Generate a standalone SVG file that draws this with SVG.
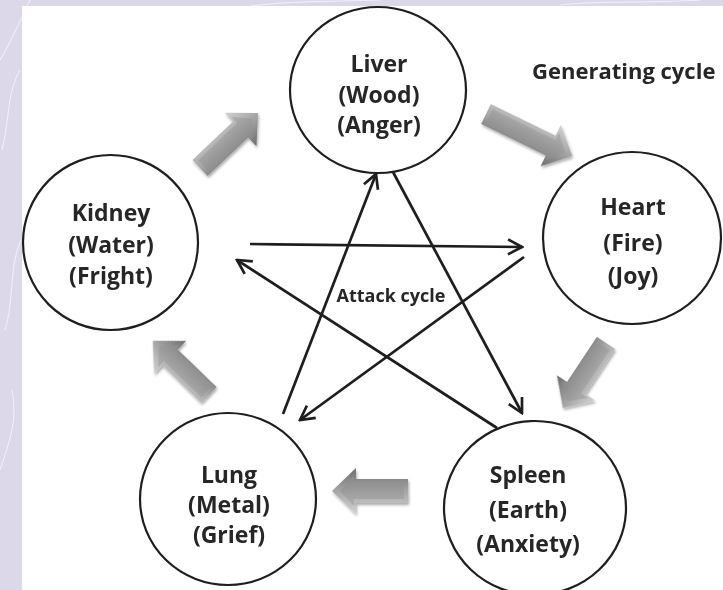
<svg xmlns="http://www.w3.org/2000/svg" width="723" height="590" viewBox="0 0 723 590">
  <defs>
    <style>
      .node { fill: #ffffff; stroke: #1e1e1e; stroke-width: 2.2; }
      .lbl { font-family: "Open Sans", "Noto Sans", "Liberation Sans", sans-serif; font-weight: 700; font-size: 23px; fill: #262626; text-anchor: middle; }
      .title { font-family: "Open Sans", "Noto Sans", "Liberation Sans", sans-serif; font-weight: 700; font-size: 22px; fill: #262626; }
      .att { font-family: "Open Sans", "Noto Sans", "Liberation Sans", sans-serif; font-weight: 700; font-size: 18px; fill: #262626; text-anchor: middle; }
      .atk { fill: none; stroke: #1e1e1e; stroke-width: 2.7; marker-end: url(#ah); }
      .g-out { fill: url(#gbev); }
      .g-in { fill: url(#gface); }
      .wisp { fill: none; stroke: #ffffff; stroke-opacity: 0.55; stroke-width: 1.2; }
    </style>
    <marker id="ah" markerUnits="userSpaceOnUse" viewBox="-17 -10 19 20" refX="0" refY="0" markerWidth="19" markerHeight="20" orient="auto">
      <path d="M-14,-7.5 L0,0 L-14,7.5" fill="none" stroke="#1e1e1e" stroke-width="2.7"/>
    </marker>
    <linearGradient id="gbev" gradientUnits="userSpaceOnUse" x1="0" y1="-23" x2="0" y2="23">
      <stop offset="0" stop-color="#d2d2d2"/>
      <stop offset="0.5" stop-color="#a6a6a6"/>
      <stop offset="1" stop-color="#6c6c6c"/>
    </linearGradient>
    <linearGradient id="gface" gradientUnits="userSpaceOnUse" x1="0" y1="-10" x2="0" y2="10">
      <stop offset="0" stop-color="#a9a9a9"/>
      <stop offset="1" stop-color="#8e8e8e"/>
    </linearGradient>
    <filter id="sh" x="-20%" y="-30%" width="140%" height="160%">
      <feGaussianBlur in="SourceAlpha" stdDeviation="1.8"/>
      <feOffset dx="1" dy="2" result="b"/>
      <feComponentTransfer><feFuncA type="linear" slope="0.35"/></feComponentTransfer>
      <feMerge><feMergeNode/><feMergeNode in="SourceGraphic"/></feMerge>
    </filter>
  </defs>

  <!-- background -->
  <rect x="0" y="0" width="723" height="590" fill="#dcd7e9"/>
  <path class="wisp" d="M0,60 C12,40 18,25 30,0"/>
  <path class="wisp" d="M2,150 C10,120 6,95 20,70"/>
  <path class="wisp" d="M5,330 C15,300 8,270 21,240"/>
  <path class="wisp" d="M0,470 C10,440 18,420 12,390"/>
  <path class="wisp" d="M250,6 C300,0 330,2 380,0"/>
  <path class="wisp" d="M560,5 C600,0 640,4 700,0"/>
  <rect x="22" y="6" width="701" height="584" fill="#ffffff"/>

  <!-- connectors -->
  <g id="connectors">
    <!-- generating cycle (block arrows) -->
    <g filter="url(#sh)">
      <g transform="translate(200,168) rotate(-43.5)">
        <polygon class="g-out" points="0,-11 56,-11 56,-23 80,0 56,23 56,11 0,11"/>
        <polygon class="g-in" points="4,-7 58,-7 58,-15 72,0 58,15 58,7 4,7"/>
      </g>
      <g transform="translate(486,114) rotate(26)">
        <polygon class="g-out" points="0,-11 72,-11 72,-23 96,0 72,23 72,11 0,11"/>
        <polygon class="g-in" points="4,-7 74,-7 74,-15 88,0 74,15 74,7 4,7"/>
      </g>
      <g transform="translate(606,343) rotate(123.5)">
        <polygon class="g-out" points="0,-11 54,-11 54,-23 78,0 54,23 54,11 0,11"/>
        <polygon class="g-in" points="4,-7 56,-7 56,-15 70,0 56,15 56,7 4,7"/>
      </g>
      <g transform="translate(408,491) rotate(180)">
        <polygon class="g-out" points="0,-12 52,-12 52,-23 76,0 52,23 52,12 0,12"/>
        <polygon class="g-in" points="4,-8 54,-8 54,-15 68,0 54,15 54,8 4,8"/>
      </g>
      <g transform="translate(209,395) rotate(-136)">
        <polygon class="g-out" points="0,-11 54,-11 54,-23 78,0 54,23 54,11 0,11"/>
        <polygon class="g-in" points="4,-7 56,-7 56,-15 70,0 56,15 56,7 4,7"/>
      </g>
    </g>
    <!-- attack cycle -->
    <line class="atk" x1="250" y1="244" x2="522" y2="247"/>
    <line class="atk" x1="524" y1="257" x2="300" y2="420"/>
    <line class="atk" x1="283" y1="414" x2="376" y2="174"/>
    <line class="atk" x1="393" y1="172" x2="522" y2="413"/>
    <line class="atk" x1="497" y1="428" x2="237" y2="260"/>
  </g>

  <!-- nodes -->
  <g id="liver">
    <ellipse class="node" cx="378" cy="90" rx="88" ry="83"/>
    <text class="lbl" x="379" y="72">Liver</text>
    <text class="lbl" x="379" y="103">(Wood)</text>
    <text class="lbl" x="379" y="133">(Anger)</text>
  </g>
  <g id="heart">
    <ellipse class="node" cx="632" cy="238" rx="89" ry="86"/>
    <text class="lbl" x="633" y="215">Heart</text>
    <text class="lbl" x="633" y="251">(Fire)</text>
    <text class="lbl" x="633" y="284">(Joy)</text>
  </g>
  <g id="spleen">
    <ellipse class="node" cx="535" cy="508" rx="91" ry="87"/>
    <text class="lbl" x="528" y="483">Spleen</text>
    <text class="lbl" x="528" y="518">(Earth)</text>
    <text class="lbl" x="528" y="552">(Anxiety)</text>
  </g>
  <g id="lung">
    <ellipse class="node" cx="228" cy="499" rx="88" ry="86"/>
    <text class="lbl" x="229" y="483">Lung</text>
    <text class="lbl" x="229" y="513">(Metal)</text>
    <text class="lbl" x="229" y="543">(Grief)</text>
  </g>
  <g id="kidney">
    <ellipse class="node" cx="110.5" cy="242.5" rx="87.5" ry="87.5"/>
    <text class="lbl" x="111" y="221">Kidney</text>
    <text class="lbl" x="111" y="253">(Water)</text>
    <text class="lbl" x="111" y="284">(Fright)</text>
  </g>

  <!-- labels -->
  <text class="title" x="532" y="79">Generating cycle</text>
  <text class="att" x="391" y="302">Attack cycle</text>
</svg>
